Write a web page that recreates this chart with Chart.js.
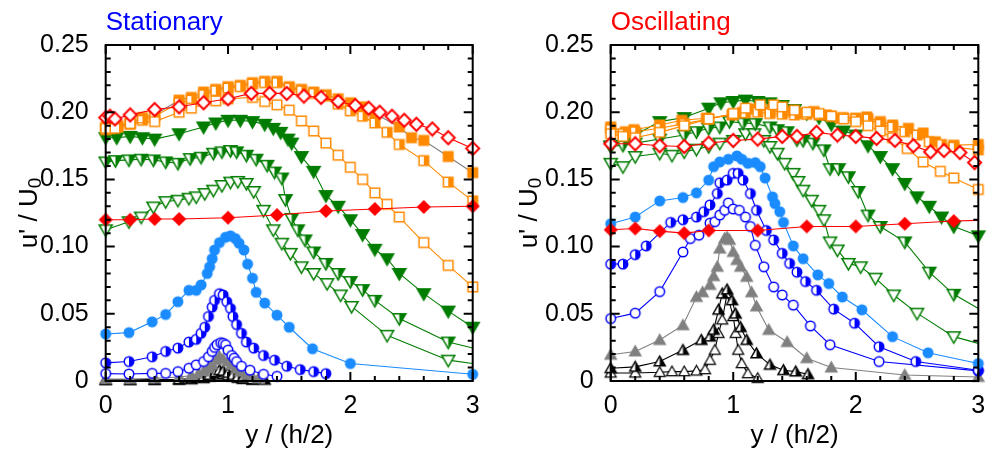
<!DOCTYPE html>
<html><head><meta charset="utf-8">
<script src="https://cdn.jsdelivr.net/npm/chart.js@4/dist/chart.umd.min.js"></script>
<style>
html,body{margin:0;padding:0;background:#fff;}
#wrap{position:relative;width:998px;height:451px;overflow:hidden;}
#c1{position:absolute;left:0;top:0;}
#c2{position:absolute;left:499px;top:0;}
</style></head><body>
<div id="wrap"><canvas id="c1" width="499" height="451"></canvas><canvas id="c2" width="499" height="451"></canvas></div>
<script>
// ---------------- DATA ----------------
const X_TICKS = [0, 1, 2, 3];
const X_TICK_LABELS = ['0', '1', '2', '3'];
const Y_TICKS = [0, 0.05, 0.10, 0.15, 0.20, 0.25];
const Y_TICK_LABELS = ['0', '0.05', '0.10', '0.15', '0.20', '0.25'];
const PANEL_TITLES = ['Stationary', 'Oscillating'];
const X_TITLE = 'y / (h/2)';
const Y_TITLE_MAIN = "u' / U";
const Y_TITLE_SUB = '0';

// Stationary panel
const S_diaF_x = [0, 0.2, 0.4, 0.6, 1.0, 1.4, 1.8, 2.2, 2.6, 3.0];
const S_diaF_y = [0.120, 0.120, 0.1205, 0.1205, 0.1215, 0.1235, 0.1265, 0.128, 0.1295, 0.130];
const S_diaO_x = [0, 0.035, 0.076, 0.2, 0.4, 0.6, 0.8, 1.0, 1.19, 1.34, 1.48, 1.62, 1.76, 1.9, 2.04, 2.15, 2.24, 2.34, 2.44, 2.54, 2.67, 2.8, 3.0];
const S_diaO_y = [0.196, 0.197, 0.195, 0.198, 0.202, 0.204, 0.207, 0.210, 0.214, 0.214, 0.214, 0.212, 0.211, 0.208, 0.205, 0.203, 0.200, 0.197, 0.194, 0.191, 0.1875, 0.181, 0.173];
const S_sqF_x = [0, 0.1, 0.2, 0.3, 0.4, 0.6, 0.7, 0.8, 0.9, 1.0, 1.1, 1.2, 1.3, 1.4, 1.5, 1.6, 1.7, 1.8, 1.9, 2.0, 2.1, 2.2, 2.4, 2.5, 2.6, 2.8, 3.0];
const S_sqF_y = [0.189, 0.190, 0.192, 0.196, 0.198, 0.209, 0.211, 0.215, 0.217, 0.219, 0.220, 0.222, 0.223, 0.223, 0.219, 0.217, 0.215, 0.213, 0.210, 0.207, 0.204, 0.199, 0.189, 0.181, 0.179, 0.167, 0.155];
const S_sqH_x = [0, 0.1, 0.2, 0.3, 0.4, 0.6, 0.7, 0.8, 0.9, 1.0, 1.1, 1.2, 1.3, 1.4, 1.5, 1.6, 1.7, 1.8, 1.9, 2.0, 2.1, 2.2, 2.3, 2.4, 2.6, 2.8, 3.0];
const S_sqH_y = [0.187, 0.189, 0.191, 0.194, 0.197, 0.207, 0.209, 0.213, 0.216, 0.218, 0.219, 0.221, 0.222, 0.222, 0.218, 0.216, 0.214, 0.212, 0.206, 0.201, 0.197, 0.192, 0.185, 0.176, 0.164, 0.148, 0.134];
const S_sqO_x = [0, 0.035, 0.076, 0.2, 0.4, 0.6, 0.7, 0.9, 1.0, 1.2, 1.3, 1.4, 1.5, 1.6, 1.7, 1.8, 1.9, 2.0, 2.1, 2.2, 2.3, 2.4, 2.6, 2.8, 3.0];
const S_sqO_y = [0.188, 0.188, 0.188, 0.1915, 0.193, 0.200, 0.203, 0.2085, 0.210, 0.211, 0.208, 0.2055, 0.2015, 0.1935, 0.186, 0.177, 0.168, 0.159, 0.150, 0.140, 0.1315, 0.122, 0.103, 0.086, 0.070];
const S_dnF_x = [0, 0.09, 0.2, 0.3, 0.4, 0.6, 0.8, 0.9, 1.0, 1.1, 1.2, 1.3, 1.37, 1.43, 1.49, 1.52, 1.6, 1.7, 1.8, 1.9, 2.0, 2.1, 2.2, 2.3, 2.4, 2.6, 2.8, 3.0];
const S_dnF_y = [0.181, 0.181, 0.182, 0.181, 0.180, 0.184, 0.189, 0.192, 0.194, 0.194, 0.193, 0.191, 0.188, 0.185, 0.180, 0.177, 0.167, 0.156, 0.138, 0.130, 0.120, 0.109, 0.098, 0.091, 0.080, 0.065, 0.052, 0.040];
const S_dnH_x = [0, 0.08, 0.19, 0.29, 0.39, 0.49, 0.59, 0.69, 0.78, 0.88, 0.95, 1.02, 1.07, 1.15, 1.23, 1.32, 1.38, 1.44, 1.47, 1.52, 1.57, 1.63, 1.7, 1.8, 1.9, 2.0, 2.1, 2.2, 2.4, 2.8, 3.0];
const S_dnH_y = [0.163, 0.164, 0.1645, 0.165, 0.1645, 0.163, 0.162, 0.1655, 0.1665, 0.1695, 0.1705, 0.1715, 0.1705, 0.168, 0.165, 0.1605, 0.1555, 0.151, 0.135, 0.121, 0.1125, 0.105, 0.096, 0.0875, 0.080, 0.074, 0.068, 0.060, 0.0465, 0.029, 0.0245];
const S_dnO_x = [0, 0.19, 0.29, 0.39, 0.49, 0.59, 0.68, 0.74, 0.81, 0.88, 0.95, 1.02, 1.08, 1.15, 1.21, 1.29, 1.37, 1.44, 1.51, 1.6, 1.7, 1.81, 1.92, 2.01, 2.3, 2.8, 3.0];
const S_dnO_y = [0.1125, 0.1185, 0.122, 0.1295, 0.1335, 0.1345, 0.136, 0.137, 0.1395, 0.142, 0.1455, 0.148, 0.1485, 0.147, 0.141, 0.127, 0.1125, 0.1025, 0.095, 0.085, 0.080, 0.0725, 0.064, 0.0555, 0.034, 0.0155, 0.013];
const S_cirF_x = [0, 0.19, 0.38, 0.49, 0.59, 0.68, 0.74, 0.78, 0.83, 0.85, 0.87, 0.89, 0.93, 0.98, 1.02, 1.06, 1.09, 1.13, 1.16, 1.2, 1.23, 1.3, 1.4, 1.5, 1.69, 2.0, 3.0];
const S_cirF_y = [0.035, 0.036, 0.044, 0.0495, 0.059, 0.0675, 0.0675, 0.0715, 0.080, 0.085, 0.091, 0.0975, 0.103, 0.107, 0.108, 0.106, 0.1025, 0.0975, 0.087, 0.0765, 0.066, 0.058, 0.049, 0.040, 0.024, 0.013, 0.005];
const S_cirH_x = [0, 0.19, 0.38, 0.49, 0.59, 0.68, 0.74, 0.78, 0.81, 0.84, 0.87, 0.89, 0.93, 0.96, 0.99, 1.02, 1.04, 1.07, 1.11, 1.15, 1.21, 1.29, 1.38, 1.48, 1.59, 1.7, 1.8];
const S_cirH_y = [0.0135, 0.0145, 0.018, 0.022, 0.0245, 0.029, 0.031, 0.0355, 0.040, 0.048, 0.055, 0.060, 0.065, 0.064, 0.059, 0.054, 0.048, 0.042, 0.0355, 0.029, 0.0245, 0.019, 0.0155, 0.011, 0.0085, 0.007, 0.0055];
const S_cirO_x = [0, 0.19, 0.38, 0.49, 0.59, 0.68, 0.74, 0.8, 0.84, 0.87, 0.89, 0.91, 0.94, 0.96, 0.98, 1.0, 1.03, 1.05, 1.07, 1.11, 1.18, 1.29, 1.4];
const S_cirO_y = [0.0055, 0.0052, 0.0057, 0.0057, 0.007, 0.0095, 0.012, 0.0145, 0.018, 0.022, 0.025, 0.027, 0.0285, 0.028, 0.027, 0.023, 0.019, 0.017, 0.0145, 0.011, 0.008, 0.005, 0.0035];
const S_upG_x = [0, 0.2, 0.4, 0.6, 0.7, 0.76, 0.8, 0.84, 0.87, 0.9, 0.93, 0.96, 1.0, 1.03, 1.07, 1.1, 1.15, 1.2, 1.25];
const S_upG_y = [0.0015, 0.0015, 0.002, 0.003, 0.004, 0.0055, 0.007, 0.0095, 0.012, 0.0155, 0.018, 0.0165, 0.0145, 0.012, 0.009, 0.007, 0.0045, 0.003, 0.002];
const S_upH_x = [0, 0.2, 0.4, 0.6, 0.7, 0.8, 0.85, 0.9, 0.93, 0.96, 1.0, 1.04, 1.08, 1.12, 1.2, 1.3];
const S_upH_y = [0.0008, 0.0008, 0.001, 0.0012, 0.0018, 0.003, 0.0045, 0.0065, 0.008, 0.0075, 0.006, 0.0045, 0.0032, 0.0022, 0.0012, 0.0008];
const S_upO_x = [0, 0.2, 0.4, 0.6, 0.7, 0.8, 0.85, 0.9, 0.93, 0.96, 1.0, 1.04, 1.08, 1.12, 1.2];
const S_upO_y = [0.0004, 0.0004, 0.0005, 0.0006, 0.001, 0.0018, 0.003, 0.0045, 0.0055, 0.005, 0.004, 0.003, 0.002, 0.0012, 0.0006];

// Oscillating panel
const O_diaF_x = [0, 0.2, 0.4, 0.6, 0.8, 1.2, 1.6, 2.0, 2.4, 2.8, 3.0];
const O_diaF_y = [0.1125, 0.1135, 0.1115, 0.110, 0.112, 0.112, 0.115, 0.115, 0.117, 0.119, 0.1195];
const O_diaO_x = [0, 0.2, 0.4, 0.6, 0.8, 1.0, 1.2, 1.4, 1.52, 1.68, 1.85, 2.0, 2.17, 2.32, 2.47, 2.61, 2.72, 2.85, 2.97];
const O_diaO_y = [0.1765, 0.1765, 0.175, 0.1745, 0.177, 0.179, 0.180, 0.182, 0.182, 0.185, 0.183, 0.182, 0.1805, 0.179, 0.175, 0.1705, 0.1715, 0.170, 0.1625];
const O_sqF_x = [0, 0.12, 0.19, 0.4, 0.58, 0.78, 0.99, 1.08, 1.18, 1.3, 1.4, 1.49, 1.57, 1.66, 1.76, 1.87, 2.0, 2.09, 2.2, 2.3, 2.43, 2.55, 2.65, 2.8, 3.0];
const O_sqF_y = [0.189, 0.1855, 0.187, 0.1905, 0.194, 0.1955, 0.198, 0.200, 0.2025, 0.2005, 0.2005, 0.2005, 0.199, 0.2005, 0.198, 0.1955, 0.1955, 0.1965, 0.193, 0.1905, 0.188, 0.1845, 0.178, 0.1755, 0.176];
const O_sqH_x = [0, 0.1, 0.2, 0.4, 0.6, 0.8, 1.0, 1.1, 1.2, 1.3, 1.4, 1.5, 1.6, 1.7, 1.8, 1.9, 2.0, 2.1, 2.2, 2.3, 2.4, 2.5, 2.6, 2.7, 2.8, 3.0];
const O_sqH_y = [0.187, 0.184, 0.1855, 0.188, 0.1915, 0.195, 0.1985, 0.1995, 0.200, 0.199, 0.1985, 0.198, 0.1985, 0.198, 0.197, 0.196, 0.195, 0.195, 0.191, 0.189, 0.1855, 0.183, 0.178, 0.176, 0.174, 0.172];
const O_sqO_x = [0, 0.1, 0.2, 0.4, 0.6, 0.8, 1.0, 1.1, 1.22, 1.33, 1.4, 1.5, 1.6, 1.7, 1.8, 1.9, 2.0, 2.1, 2.2, 2.3, 2.42, 2.55, 2.69, 2.8, 3.0];
const O_sqO_y = [0.184, 0.182, 0.181, 0.185, 0.190, 0.195, 0.199, 0.203, 0.2055, 0.2055, 0.204, 0.2015, 0.200, 0.199, 0.197, 0.195, 0.193, 0.190, 0.186, 0.181, 0.173, 0.163, 0.156, 0.151, 0.1425];
const O_dnF_x = [0, 0.2, 0.4, 0.6, 0.8, 0.9, 1.0, 1.1, 1.2, 1.3, 1.4, 1.5, 1.6, 1.7, 1.8, 1.9, 2.0, 2.1, 2.2, 2.3, 2.4, 2.5, 2.6, 2.7, 2.8, 3.0];
const O_dnF_y = [0.175, 0.183, 0.193, 0.196, 0.203, 0.207, 0.208, 0.209, 0.208, 0.207, 0.205, 0.202, 0.199, 0.196, 0.191, 0.186, 0.183, 0.175, 0.167, 0.158, 0.147, 0.137, 0.130, 0.122, 0.115, 0.108];
const O_dnH_x = [0, 0.1, 0.2, 0.4, 0.6, 0.7, 0.8, 0.89, 0.97, 1.08, 1.18, 1.3, 1.36, 1.44, 1.52, 1.57, 1.65, 1.74, 1.79, 1.86, 1.94, 2.02, 2.1, 2.2, 2.4, 2.6, 2.8, 3.0];
const O_dnH_y = [0.1745, 0.1755, 0.177, 0.180, 0.183, 0.1855, 0.188, 0.189, 0.193, 0.192, 0.1915, 0.189, 0.187, 0.1855, 0.1795, 0.179, 0.177, 0.172, 0.158, 0.158, 0.152, 0.141, 0.1235, 0.115, 0.1035, 0.081, 0.0645, 0.054];
const O_dnO_x = [0, 0.1, 0.2, 0.4, 0.5, 0.6, 0.7, 0.8, 0.89, 1.0, 1.1, 1.17, 1.25, 1.3, 1.36, 1.42, 1.49, 1.53, 1.57, 1.64, 1.7, 1.74, 1.79, 1.85, 1.94, 2.04, 2.16, 2.31, 2.5, 2.8, 3.0];
const O_dnO_y = [0.162, 0.1595, 0.167, 0.1695, 0.168, 0.1705, 0.1725, 0.1745, 0.177, 0.179, 0.184, 0.184, 0.179, 0.1745, 0.1695, 0.162, 0.1545, 0.1485, 0.142, 0.1345, 0.127, 0.120, 0.1035, 0.0975, 0.0875, 0.085, 0.0765, 0.064, 0.0505, 0.033, 0.028];
const O_cirF_x = [0, 0.2, 0.4, 0.59, 0.7, 0.8, 0.84, 0.89, 0.96, 1.03, 1.07, 1.12, 1.18, 1.22, 1.26, 1.32, 1.34, 1.38, 1.41, 1.49, 1.57, 1.69, 1.78, 1.89, 2.05, 2.3, 2.59, 3.0];
const O_cirF_y = [0.117, 0.122, 0.134, 0.1365, 0.140, 0.1495, 0.1595, 0.163, 0.165, 0.1675, 0.165, 0.162, 0.1625, 0.1595, 0.151, 0.137, 0.132, 0.126, 0.118, 0.1005, 0.091, 0.079, 0.0725, 0.0625, 0.053, 0.033, 0.021, 0.013];
const O_cirH_x = [0, 0.1, 0.2, 0.29, 0.49, 0.59, 0.7, 0.76, 0.81, 0.87, 0.89, 0.95, 1.0, 1.04, 1.08, 1.14, 1.19, 1.27, 1.33, 1.4, 1.46, 1.52, 1.59, 1.68, 1.82, 1.99, 2.19, 2.49, 3.0];
const O_cirH_y = [0.087, 0.087, 0.094, 0.1005, 0.118, 0.120, 0.122, 0.126, 0.131, 0.1395, 0.1475, 0.1495, 0.1545, 0.1545, 0.1495, 0.1395, 0.127, 0.112, 0.105, 0.095, 0.0875, 0.081, 0.074, 0.0675, 0.0535, 0.043, 0.0255, 0.0145, 0.008];
const O_cirO_x = [0, 0.2, 0.4, 0.59, 0.65, 0.72, 0.81, 0.85, 0.89, 0.93, 0.96, 1.0, 1.05, 1.1, 1.14, 1.18, 1.25, 1.33, 1.4, 1.49, 1.63, 1.79, 2.19, 3.0];
const O_cirO_y = [0.0465, 0.0505, 0.0665, 0.096, 0.106, 0.1085, 0.1175, 0.1185, 0.1235, 0.127, 0.1325, 0.128, 0.127, 0.122, 0.115, 0.101, 0.085, 0.070, 0.064, 0.0565, 0.041, 0.027, 0.0145, 0.0075];
const O_upG_x = [0, 0.2, 0.4, 0.59, 0.7, 0.75, 0.81, 0.84, 0.87, 0.89, 0.93, 0.95, 0.97, 1.0, 1.03, 1.06, 1.11, 1.15, 1.19, 1.29, 1.44, 1.6, 1.8, 2.4, 3.0];
const O_upG_y = [0.0195, 0.022, 0.0305, 0.0415, 0.0625, 0.066, 0.0715, 0.078, 0.085, 0.0985, 0.106, 0.107, 0.105, 0.096, 0.090, 0.085, 0.0775, 0.066, 0.0555, 0.038, 0.029, 0.017, 0.010, 0.0045, 0.003];
const O_upH_x = [0, 0.2, 0.4, 0.59, 0.74, 0.81, 0.84, 0.88, 0.91, 0.95, 0.99, 1.02, 1.06, 1.11, 1.19, 1.3, 1.41, 1.51, 1.61];
const O_upH_y = [0.0095, 0.0105, 0.0145, 0.023, 0.0305, 0.033, 0.038, 0.053, 0.065, 0.068, 0.060, 0.050, 0.040, 0.0305, 0.0205, 0.012, 0.008, 0.007, 0.005];
const O_upO_x = [0, 0.2, 0.4, 0.5, 0.6, 0.7, 0.77, 0.81, 0.85, 0.88, 0.91, 0.95, 1.0, 1.02, 1.04, 1.07, 1.12, 1.2];
const O_upO_y = [0.006, 0.006, 0.0065, 0.007, 0.007, 0.0075, 0.0085, 0.0155, 0.023, 0.0355, 0.0455, 0.065, 0.048, 0.0355, 0.023, 0.013, 0.0055, 0.002];

// ---------------- STYLE ----------------
const RED = '#ff0000', ORANGE = '#ff8a00', GREEN = '#007d00', LBLUE = '#1a8cff', BLUE = '#0000ff', GRAY = '#808080', BLACK = '#000000';
const FONT = '"Liberation Sans", Arial, Helvetica, sans-serif';

function marker(shape, color, fill, size, lw) {
  const pad = 2, S = Math.ceil(size + pad * 2);
  const c = document.createElement('canvas'); c.width = S; c.height = S;
  const g = c.getContext('2d');
  const cx = S / 2, cy = S / 2, r = size / 2;
  const path = () => {
    g.beginPath();
    if (shape === 'circle') g.arc(cx, cy, r, 0, Math.PI * 2);
    else if (shape === 'square') g.rect(cx - r, cy - r, 2 * r, 2 * r);
    else if (shape === 'diamond') { g.moveTo(cx, cy - r); g.lineTo(cx + r, cy); g.lineTo(cx, cy + r); g.lineTo(cx - r, cy); g.closePath(); }
    else if (shape === 'up') { g.moveTo(cx, cy - r); g.lineTo(cx + r, cy + r * 0.75); g.lineTo(cx - r, cy + r * 0.75); g.closePath(); }
    else if (shape === 'down') { g.moveTo(cx - r, cy - r * 0.75); g.lineTo(cx + r, cy - r * 0.75); g.lineTo(cx, cy + r); g.closePath(); }
  };
  path(); g.fillStyle = fill === 'full' ? color : '#ffffff'; g.fill();
  if (fill === 'half') { g.save(); path(); g.clip(); g.fillStyle = color; g.fillRect(cx, 0, S, S); g.restore(); }
  path(); g.strokeStyle = color; g.lineWidth = lw || 1.5; g.stroke();
  return c;
}

function series(xs, ys, mk, lineColor, noLast) {
  const n = xs.length;
  return {
    data: xs.map((x, i) => ({ x: x, y: ys[i] })),
    showLine: true, borderColor: lineColor, borderWidth: 1.1, tension: 0,
    pointStyle: mk,
    pointRadius: xs.map((_, i) => (noLast && i === n - 1) ? 0 : 5),
    clip: false
  };
}

function panelDatasets(P, lineForFilledSquare) {
  return [
    series(P.diaF[0], P.diaF[1], marker('diamond', RED, 'full', 12, 1.5), RED, P.diaFnoLast),
    series(P.diaO[0], P.diaO[1], marker('diamond', RED, 'open', 13, 2), RED),
    series(P.sqO[0], P.sqO[1], marker('square', ORANGE, 'open', 9.5, 1.5), ORANGE),
    series(P.sqH[0], P.sqH[1], marker('square', ORANGE, 'half', 9.5, 1.5), ORANGE),
    series(P.sqF[0], P.sqF[1], marker('square', ORANGE, 'full', 9.5, 1.5), lineForFilledSquare),
    series(P.dnF[0], P.dnF[1], marker('down', GREEN, 'full', 13, 1.5), GREEN),
    series(P.dnH[0], P.dnH[1], marker('down', GREEN, 'half', 13, 1.5), GREEN, true),
    series(P.dnO[0], P.dnO[1], marker('down', GREEN, 'open', 13, 1.5), GREEN, true),
    series(P.cirF[0], P.cirF[1], marker('circle', LBLUE, 'full', 9.5, 1.5), LBLUE),
    series(P.cirH[0], P.cirH[1], marker('circle', BLUE, 'half', 9.5, 1.5), BLUE),
    series(P.cirO[0], P.cirO[1], marker('circle', BLUE, 'open', 9.5, 1.5), BLUE),
    series(P.upG[0], P.upG[1], marker('up', GRAY, 'full', 11, 1.5), GRAY),
    series(P.upH[0], P.upH[1], marker('up', BLACK, 'half', 11, 1.5), BLACK),
    series(P.upO[0], P.upO[1], marker('up', BLACK, 'open', 11, 1.2), BLACK)
  ];
}

function framePlugin(title, titleColor, yTitleOffset) {
  return {
    id: 'frame',
    afterDraw(chart) {
      const ctx = chart.ctx, a = chart.chartArea, xs = chart.scales.x, ys = chart.scales.y;
      ctx.save();
      ctx.strokeStyle = '#000'; ctx.lineWidth = 2;
      ctx.strokeRect(a.left, a.top, a.right - a.left, a.bottom - a.top);
      ctx.beginPath();
      for (let k = 0; k <= 15; k++) {
        const v = k * 0.2, px = xs.getPixelForValue(v);
        const L = (k % 5 === 0) ? 9 : 5;
        ctx.moveTo(px, a.bottom); ctx.lineTo(px, a.bottom - L);
        ctx.moveTo(px, a.top); ctx.lineTo(px, a.top + L);
      }
      for (let k = 0; k <= 25; k++) {
        const v = k * 0.01, py = ys.getPixelForValue(v);
        const L = (k % 5 === 0) ? 9 : 5;
        ctx.moveTo(a.left, py); ctx.lineTo(a.left + L, py);
        ctx.moveTo(a.right, py); ctx.lineTo(a.right - L, py);
      }
      ctx.stroke();
      // panel title
      ctx.fillStyle = titleColor; ctx.font = '26px ' + FONT;
      ctx.textAlign = 'left'; ctx.textBaseline = 'alphabetic';
      ctx.fillText(title, a.left, 30);
      // x title
      ctx.fillStyle = '#000'; ctx.textAlign = 'center';
      ctx.fillText(X_TITLE, (a.left + a.right) / 2, 443);
      // y title with subscript
      ctx.save();
      ctx.translate(a.left - yTitleOffset, (a.top + a.bottom) / 2);
      ctx.rotate(-Math.PI / 2);
      ctx.font = '26px ' + FONT;
      const w1 = ctx.measureText(Y_TITLE_MAIN).width;
      ctx.font = '19px ' + FONT;
      const w2 = ctx.measureText(Y_TITLE_SUB).width;
      const x0 = -(w1 + w2) / 2;
      ctx.textAlign = 'left'; ctx.textBaseline = 'alphabetic';
      ctx.font = '26px ' + FONT;
      ctx.fillText(Y_TITLE_MAIN, x0, 8);
      ctx.font = '19px ' + FONT;
      ctx.fillText(Y_TITLE_SUB, x0 + w1, 12);
      ctx.restore();
      ctx.restore();
    }
  };
}

function makeChart(id, datasets, yWidth, padRight, title, titleColor, yTitleOffset) {
  return new Chart(document.getElementById(id), {
    type: 'scatter',
    data: { datasets: datasets },
    options: {
      responsive: false, animation: false, events: [],
      layout: { padding: { left: 0, right: padRight, top: 45, bottom: 0 } },
      plugins: { legend: { display: false }, tooltip: { enabled: false } },
      scales: {
        x: {
          type: 'linear', min: 0, max: 3,
          afterBuildTicks: s => { s.ticks = X_TICKS.map(v => ({ value: v })); },
          afterFit: s => { s.height = 70; },
          grid: { display: false }, border: { display: false },
          ticks: { padding: 2, color: '#000', maxRotation: 0, autoSkip: false,
                   font: { family: FONT, size: 25 }, callback: (v, i) => X_TICK_LABELS[i] }
        },
        y: {
          type: 'linear', min: 0, max: 0.25,
          afterBuildTicks: s => { s.ticks = Y_TICKS.map(v => ({ value: v })); },
          afterFit: s => { s.width = yWidth; },
          grid: { display: false }, border: { display: false },
          ticks: { padding: 9, color: '#000', autoSkip: false,
                   font: { family: FONT, size: 25 }, callback: (v, i) => Y_TICK_LABELS[i] }
        }
      }
    },
    plugins: [framePlugin(title, titleColor, yTitleOffset)]
  });
}

const S_PANEL = {
  diaF: [S_diaF_x, S_diaF_y], diaO: [S_diaO_x, S_diaO_y],
  sqF: [S_sqF_x, S_sqF_y], sqH: [S_sqH_x, S_sqH_y], sqO: [S_sqO_x, S_sqO_y],
  dnF: [S_dnF_x, S_dnF_y], dnH: [S_dnH_x, S_dnH_y], dnO: [S_dnO_x, S_dnO_y],
  cirF: [S_cirF_x, S_cirF_y], cirH: [S_cirH_x, S_cirH_y], cirO: [S_cirO_x, S_cirO_y],
  upG: [S_upG_x, S_upG_y], upH: [S_upH_x, S_upH_y], upO: [S_upO_x, S_upO_y],
  diaFnoLast: false
};
const O_PANEL = {
  diaF: [O_diaF_x, O_diaF_y], diaO: [O_diaO_x, O_diaO_y],
  sqF: [O_sqF_x, O_sqF_y], sqH: [O_sqH_x, O_sqH_y], sqO: [O_sqO_x, O_sqO_y],
  dnF: [O_dnF_x, O_dnF_y], dnH: [O_dnH_x, O_dnH_y], dnO: [O_dnO_x, O_dnO_y],
  cirF: [O_cirF_x, O_cirF_y], cirH: [O_cirH_x, O_cirH_y], cirO: [O_cirO_x, O_cirO_y],
  upG: [O_upG_x, O_upG_y], upH: [O_upH_x, O_upH_y], upO: [O_upO_x, O_upO_y],
  diaFnoLast: true
};

makeChart('c1', panelDatasets(S_PANEL, GRAY), 105.7, 26.3, PANEL_TITLES[0], BLUE, 77);
makeChart('c2', panelDatasets(O_PANEL, ORANGE), 111.7, 19.7, PANEL_TITLES[1], RED, 82);
</script>
</body></html>
